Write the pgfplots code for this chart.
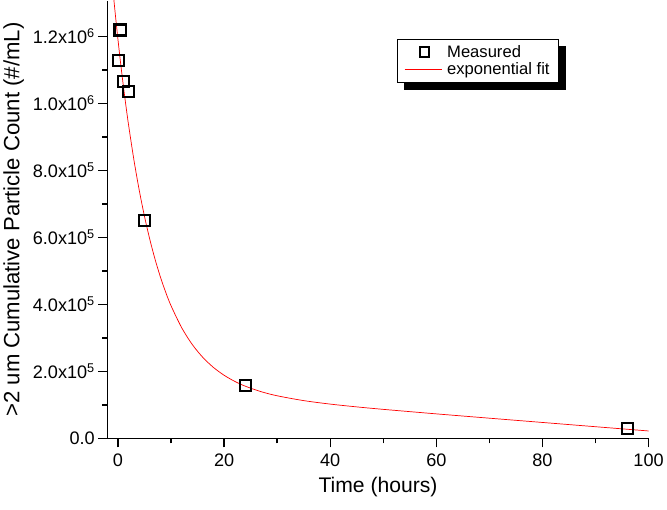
\documentclass[border=0pt]{standalone}
\usepackage{pgfplots}
\pgfplotsset{compat=1.18}
\usepackage{fontspec}
\setmainfont{Liberation Sans}
\usetikzlibrary{backgrounds}
\begin{document}
\begin{tikzpicture}
  \begin{axis}[
    scale only axis,
    width=538pt, height=435pt,
    xmin=-2, xmax=100,
    ymin=0, ymax=1.306e6,
    axis lines=left,
    axis line style={-, line width=1.6pt},
    tick align=outside,
    major tick length=9pt,
    minor tick length=5pt,
    every tick/.style={black, line width=1.4pt},
    xtick={0,20,40,60,80,100},
    minor xtick={10,30,50,70,90},
    ytick={0,2e5,4e5,6e5,8e5,1e6,1.2e6},
    minor ytick={1e5,3e5,5e5,7e5,9e5,1.1e6},
    scaled y ticks=false,
    yticklabels={0.0, 2.0x10\textsuperscript{5}, 4.0x10\textsuperscript{5},
                 6.0x10\textsuperscript{5}, 8.0x10\textsuperscript{5},
                 1.0x10\textsuperscript{6}, 1.2x10\textsuperscript{6}},
    /pgf/number format/assume math mode=true,
    ticklabel style={font=\fontsize{18}{21}\selectfont},
    xticklabel style={yshift=-3pt},
    xlabel={Time (hours)},
    ylabel={>2 um Cumulative Particle Count (\#/mL)},
    xlabel style={font=\fontsize{21}{24}\selectfont, yshift=-3pt},
    ylabel style={font=\fontsize{22}{25}\selectfont, yshift=2pt},
    legend style={name=leg, at={(0.535,0.913)}, anchor=north west,
      draw=black, line width=0.8pt, fill=white,
      font=\fontsize{16.5}{19.5}\selectfont,
      inner xsep=7pt, inner ysep=4pt,
      legend cell align=left},
  ]
  \addplot[only marks, mark=square, mark size=5.5pt,
    mark options={draw=black, line width=2.2pt, fill=none},
    legend image code/.code={\draw[black, line width=2pt] (0.52cm,-0.17cm) rectangle (0.86cm,0.17cm); \path (1.4cm,0);}]
    coordinates {
      (0.4,1.219e6) (0.15,1.128e6) (1.0,1.066e6) (2.0,1.036e6)
      (5.0,6.50e5) (24,1.57e5) (96,3.0e4)
    };
  \addlegendentry{Measured}
  \addplot[red, line width=0.7pt, smooth,
    legend image code/.code={\draw[red, line width=0.7pt] (0cm,0cm) -- (1.3cm,0cm); \path (1.4cm,0);}]
    coordinates {
      (-0.8,1312216) (-0.5,1264421) (0,1189000) (0.5,1118591) (1,1052863)
      (1.5,991502) (2,934229) (3,830800) (4,740620) (5,661974) (6,593364)
      (7,533490) (8,481198) (9,435530) (10,395624) (12,330195) (14,280002)
      (16,241374) (18,211508) (20,188264) (22,170040) (24,155621)
      (27,139169) (30,127024) (35,112602) (40,102221) (45,93858)
      (50,86502) (60,73040) (70,60160) (80,47415) (90,34700) (100,22000)
    };
  \addlegendentry{exponential fit}
  \end{axis}
  \begin{scope}[on background layer]
    \fill[black] ([xshift=7pt,yshift=-7pt]leg.south west) rectangle ([xshift=7pt,yshift=-7pt]leg.north east);
  \end{scope}
  \path ([yshift=-71pt]current axis.south west);
\end{tikzpicture}
\end{document}
